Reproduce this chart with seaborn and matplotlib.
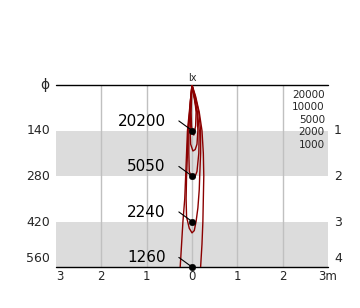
import matplotlib
matplotlib.use("Agg")
import matplotlib.pyplot as plt
import seaborn as sns
import pandas as pd

# ---------------- data ----------------
distances = [1, 2, 3, 4]                      # m
diameters = ["140", "280", "420", "560"]      # beam diameter (cm)
center_lux = [20200, 5050, 2240, 1260]        # lx on axis
iso_levels = ["20000", "10000", "5000", "2000", "1000"]
x_tick_vals = [-3, -2, -1, 0, 1, 2, 3]
x_tick_labels = ["3", "2", "1", "0", "1", "2", "3m"]

# isolux contours: lateral offset x (m), depth d (m)
iso_20000_x = [0.0, -0.01, -0.02, -0.01, 0.01, 0.04, 0.08, 0.09, 0.06, 0.0]
iso_20000_d = [0.0, 0.3, 0.6, 0.9, 1.05, 1.1, 0.9, 0.6, 0.3, 0.0]
iso_10000_x = [0.0, -0.02, -0.03, -0.04, -0.03, 0.02, 0.07, 0.11, 0.13, 0.11, 0.05, 0.0]
iso_10000_d = [0.0, 0.3, 0.6, 1.0, 1.3, 1.45, 1.42, 1.3, 1.0, 0.6, 0.3, 0.0]
iso_5000_x = [0.0, -0.03, -0.05, -0.07, -0.07, -0.06, 0.0, 0.06, 0.11, 0.15, 0.16, 0.12, 0.06, 0.0]
iso_5000_d = [0.0, 0.3, 0.6, 1.0, 1.5, 1.9, 2.05, 2.03, 1.9, 1.5, 1.0, 0.6, 0.3, 0.0]
iso_2000_x = [0.0, -0.03, -0.06, -0.09, -0.1, -0.12, -0.13, -0.12, -0.06, 0.0, 0.05, 0.09,
              0.13, 0.16, 0.17, 0.19, 0.19, 0.15, 0.07, 0.0]
iso_2000_d = [0.0, 0.3, 0.7, 1.0, 1.5, 2.0, 2.5, 2.9, 3.15, 3.25, 3.2, 3.0,
              2.7, 2.3, 2.0, 1.5, 1.0, 0.6, 0.25, 0.0]
iso_1000_x = [0.0, -0.03, -0.07, -0.1, -0.12, -0.14, -0.16, -0.2, -0.23, -0.26, -0.2, 0.0,
              0.12, 0.19, 0.22, 0.24, 0.25, 0.26, 0.25, 0.22, 0.16, 0.08, 0.0]
iso_1000_d = [0.0, 0.3, 0.7, 1.0, 1.5, 2.0, 2.5, 3.0, 3.5, 4.0, 4.4, 4.55,
              4.4, 4.0, 3.5, 3.0, 2.5, 2.0, 1.5, 1.0, 0.6, 0.25, 0.0]

contours = [
    (iso_20000_x, iso_20000_d),
    (iso_10000_x, iso_10000_d),
    (iso_5000_x, iso_5000_d),
    (iso_2000_x, iso_2000_d),
    (iso_1000_x, iso_1000_d),
]

# ---------------- figure ----------------
sns.set_theme(style="white")
plt.rcParams["font.family"] = ["DejaVu Sans"]

fig = plt.figure(figsize=(3.6, 3.08), dpi=100)
fig.patch.set_facecolor("white")
ax = fig.add_axes([56 / 360, 41 / 308, 272 / 360, 182 / 308])
ax.set_xlim(-3, 3)
ax.set_ylim(4, 0)
ax.set_facecolor("white")
for s in ax.spines.values():
    s.set_visible(False)
ax.set_xticks([])
ax.set_yticks([])

# gray bands
for top in (1, 3):
    ax.axhspan(top, top + 1, color="#dcdcdc", lw=0, zorder=0)
# vertical grid lines
for xv in x_tick_vals[1:-1]:
    ax.axvline(xv, color="#c0c0c0", lw=1.0, zorder=1)
# top and bottom rules
ax.axhline(0, color="black", lw=1.0, zorder=3, clip_on=False)
ax.axhline(4, color="black", lw=1.0, zorder=3, clip_on=False)

# isolux contours
for cx, cd in contours:
    df = pd.DataFrame({"x": cx, "d": cd})
    sns.lineplot(data=df, x="x", y="d", sort=False, estimator=None,
                 color="#8b0000", lw=1.0, ax=ax, zorder=4)

# on-axis dots with leaders and values
dots = pd.DataFrame({"x": [0.0] * len(distances), "d": distances})
sns.scatterplot(data=dots, x="x", y="d", color="black", s=22, ax=ax,
                zorder=6, edgecolor="black", clip_on=False)
for d, val in zip(distances, center_lux):
    ax.plot([-0.29, 0.0], [d - 0.21, d], color="black", lw=0.8, zorder=5,
            clip_on=False)
    ax.text(-0.58, d - 0.2, str(val), ha="right", va="center", fontsize=11,
            color="black", clip_on=False)

ax.set_xlabel("")
ax.set_ylabel("")
ax.set_xlim(-3, 3)
ax.set_ylim(4, 0)

# left column: diameter
ax.text(-3.24, 0.0, "ϕ", ha="center", va="center", fontsize=10,
        family=["DejaVu Sans"])
row_pos = [1.0, 2.0, 3.03, 3.82]
for d, lab in zip(row_pos, diameters):
    ax.text(-3.13, d, lab, ha="right", va="center", fontsize=9)
# right column: distance
for d, lab in zip(row_pos, distances):
    ax.text(3.13, d, str(lab), ha="left", va="center", fontsize=9)

# lx header and levels
ax.text(0.01, -0.15, "lx", ha="center", va="center", fontsize=7)
for i, lev in enumerate(iso_levels):
    ax.text(2.93, 0.21 + i * 0.275, lev, ha="right", va="center", fontsize=7.5)

# bottom tick labels
for xv, lab in zip(x_tick_vals, x_tick_labels):
    ha = "left" if xv == -3 else "center"
    ax.text(xv, 4.2, lab, ha=ha, va="center", fontsize=8.5, clip_on=False)

fig.savefig("out.png", dpi=100, facecolor="white")
